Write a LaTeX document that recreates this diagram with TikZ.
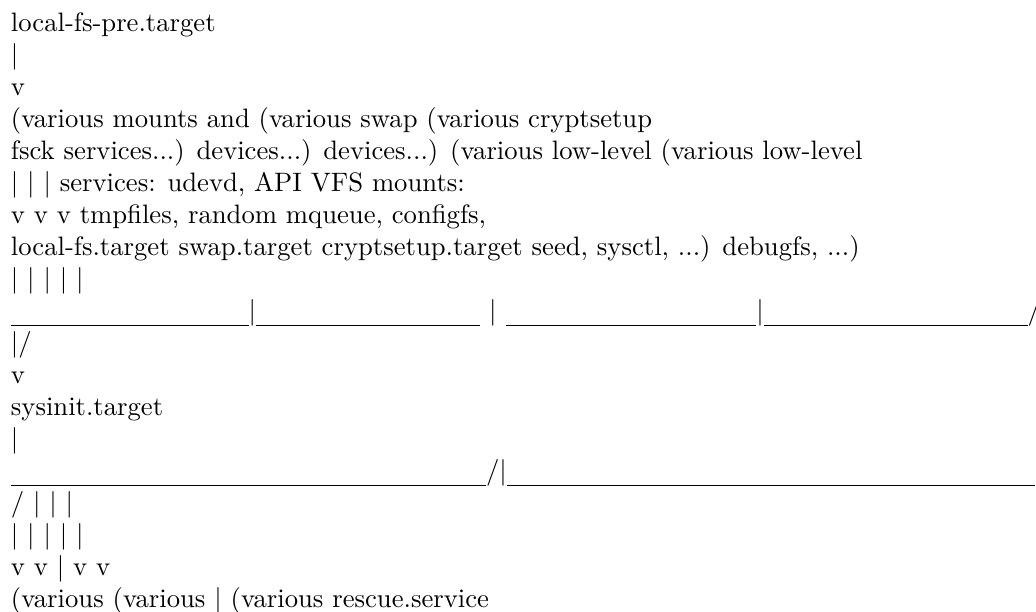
\documentclass[tikz,border=0pt]{standalone}
\usetikzlibrary{positioning}

% a run of underscores, one per 4.95pt
\newcommand{\hrun}[1]{\rule[-2.5pt]{\dimexpr 4.95pt*#1\relax}{0.45pt}}

\tikzset{
	ascii/.style={inner sep=0pt, outer sep=0pt, text height=8pt, text depth=4pt, anchor=north west},
	nextline/.style={below=0pt of #1.south west, ascii}
}

\begin{document}
\begin{tikzpicture}
	\useasboundingbox (0,0) rectangle (388.5pt,-229.5pt);
	\clip (0,0) rectangle (388.5pt,-229.5pt);

	\node[ascii] (lfspre) at (4.1pt,-3.8pt) {local-fs-pre.target};
	\node[nextline=lfspre] (bar1) {|};
	\node[nextline=bar1] (v1) {v};
	\node[nextline=v1] (mounts) {(various mounts and (various swap (various cryptsetup};
	\node[nextline=mounts] (fsck) {fsck services...) devices...) devices...) (various low-level (various low-level};
	\node[nextline=fsck] (udevd) {| | | services: udevd, API VFS mounts:};
	\node[nextline=udevd] (tmpfiles) {v v v tmpfiles, random mqueue, configfs,};
	\node[nextline=tmpfiles] (targets) {local-fs.target swap.target cryptsetup.target seed, sysctl, ...) debugfs, ...)};
	\node[nextline=targets] (bar2) {| | | | |};
	\node[nextline=bar2] (join) {\hrun{18}|\hrun{17} | \hrun{19}|\hrun{20}/};
	\node[nextline=join] (merge) {|/};
	\node[nextline=merge] (v2) {v};
	\node[nextline=v2] (sysinit) {sysinit.target};
	\node[nextline=sysinit] (bar3) {|};
	\node[nextline=bar3] (split) {\hrun{36}/|\hrun{40}};
	\node[nextline=split] (fork) {/ | | |};
	\node[nextline=fork] (bar4) {| | | | |};
	\node[nextline=bar4] (v3) {v v | v v};
	\node[nextline=v3] (timers) {(various (various | (various rescue.service};

\end{tikzpicture}
\end{document}
